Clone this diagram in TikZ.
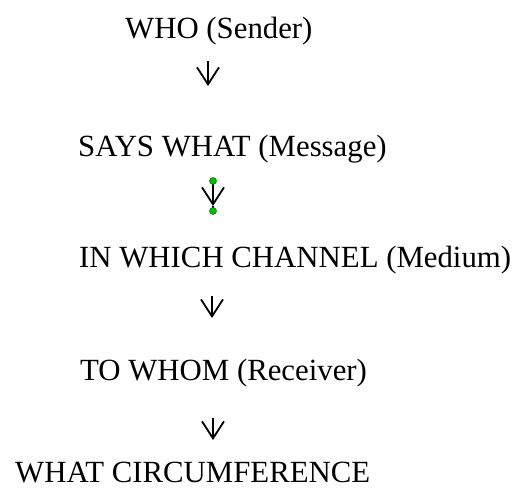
\documentclass[tikz,border=0pt]{standalone}
\usepackage{fontspec}
\setmainfont{Liberation Serif}
\usetikzlibrary{arrows.meta}
\begin{document}
\begin{tikzpicture}[x=1pt,y=1pt,
  lbl/.style={anchor=base west,inner sep=0pt,font=\fontsize{30.8}{36}\selectfont},
  flow/.style={line width=1.8pt,-{Straight Barb[length=17pt,width=22pt,line width=1.8pt]}},
  handle/.style={circle,fill=green!75!black,draw=green!40!black,line width=0.5pt,minimum size=7pt,inner sep=0pt}]
\useasboundingbox (0,0) rectangle (519,-490);
\node[lbl] (who)  at (125,-38)  {WHO (Sender)};
\node[lbl] (says) at (78,-156)  {SAYS WHAT (Message)};
\node[lbl] (chan) at (79,-267)  {IN WHICH CHANNEL (Medium)};
\node[lbl] (whom) at (80,-380)  {TO WHOM (Receiver)};
\node[lbl] (circ) at (15,-482)  {WHAT CIRCUMFERENCE};
\coordinate (a1s) at (208,-61);  \coordinate (a1e) at (208,-86);
\coordinate (a2s) at (213,-181); \coordinate (a2e) at (213,-206);
\coordinate (a2b) at (213,-211);
\coordinate (a3s) at (212,-296); \coordinate (a3e) at (212,-318);
\coordinate (a4s) at (213,-418); \coordinate (a4e) at (213,-440);
\draw[flow] (a1s) -- (a1e);
\draw[flow] (a2s) -- (a2e);
\draw[line width=1.8pt] (a2e) -- (a2b);
\node[handle] (h1) at (a2s) {};
\node[handle] (h2) at (a2b) {};
\draw[flow] (a3s) -- (a3e);
\draw[flow] (a4s) -- (a4e);
\end{tikzpicture}
\end{document}
